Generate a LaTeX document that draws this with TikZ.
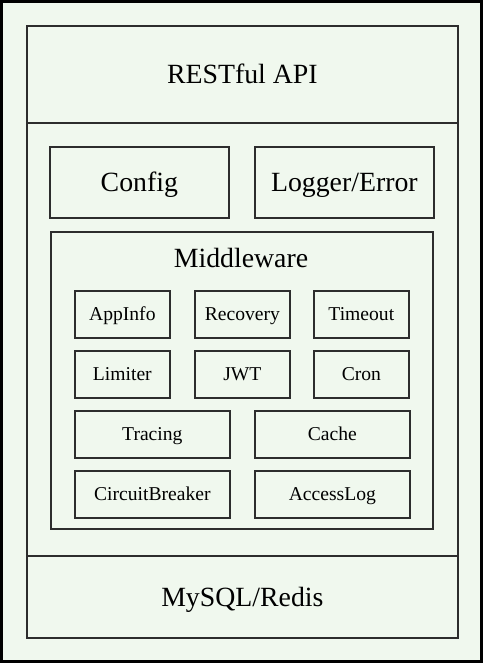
\documentclass[tikz,border=0pt]{standalone}
\usepackage{fontspec}
\setmainfont{Liberation Serif}
\definecolor{bg}{RGB}{240,248,238}
\definecolor{ln}{RGB}{45,45,45}
\begin{document}
\begin{tikzpicture}[x=1pt,y=-1pt,
  box/.style={draw=ln,line width=1.7pt,anchor=north west,inner sep=0pt,text depth=0pt},
  bigbox/.style={box,font=\fontsize{27.8}{32}\selectfont,text height=18.4pt},
  smallbox/.style={box,font=\fontsize{19.6}{23}\selectfont,text height=13pt}]
\fill[bg] (0,0) rectangle (483,663);
\useasboundingbox (0,0) rectangle (483,663);
\draw[black,line width=3pt] (1.5,1.5) rectangle (481.5,661.5);
% layers
\node[bigbox,minimum width=431pt,minimum height=97pt] (api) at (26,25) {RESTful API};
\node[box,minimum width=431pt,minimum height=433pt] (core) at (26,122) {};
\node[bigbox,minimum width=431pt,minimum height=82pt] (db) at (26,555) {MySQL/Redis};
% config / logger
\node[bigbox,minimum width=179pt,minimum height=71pt] (config) at (49,146) {Config};
\node[bigbox,minimum width=179pt,minimum height=71pt] (logger) at (254,146) {Logger/Error};
% middleware
\node[box,minimum width=382pt,minimum height=297pt] (mw) at (50,231) {};
\node[anchor=base,inner sep=0pt,font=\fontsize{27.8}{32}\selectfont] (mwlabel) at (241,267) {Middleware};
% row 1
\node[smallbox,minimum width=95pt,minimum height=47pt] (appinfo) at (74,290) {AppInfo};
\node[smallbox,minimum width=95pt,minimum height=47pt] (recovery) at (194,290) {Recovery};
\node[smallbox,minimum width=95pt,minimum height=47pt] (timeout) at (313,290) {Timeout};
% row 2
\node[smallbox,minimum width=95pt,minimum height=47pt] (limiter) at (74,350) {Limiter};
\node[smallbox,minimum width=95pt,minimum height=47pt] (jwt) at (194,350) {JWT};
\node[smallbox,minimum width=95pt,minimum height=47pt] (cron) at (313,350) {Cron};
% row 3
\node[smallbox,minimum width=155pt,minimum height=47pt] (tracing) at (74,410) {Tracing};
\node[smallbox,minimum width=155pt,minimum height=47pt] (cache) at (254,410) {Cache};
% row 4
\node[smallbox,minimum width=155pt,minimum height=47pt] (cb) at (74,470) {CircuitBreaker};
\node[smallbox,minimum width=155pt,minimum height=47pt] (accesslog) at (254,470) {AccessLog};
\end{tikzpicture}
\end{document}
